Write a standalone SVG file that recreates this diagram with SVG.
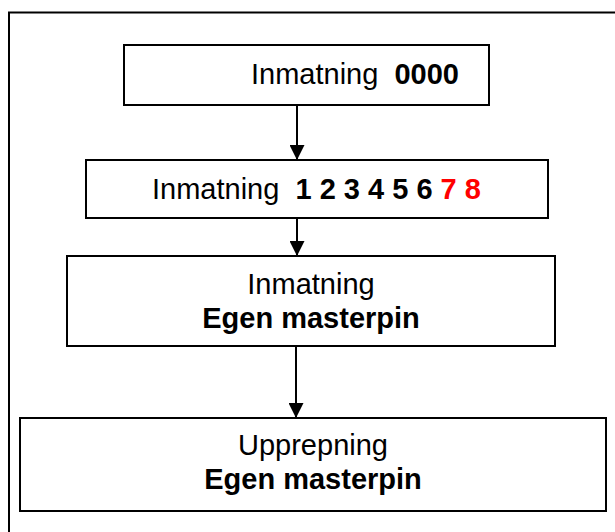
<svg xmlns="http://www.w3.org/2000/svg" width="615" height="532" viewBox="0 0 615 532">
  <style>
    .frame { fill: none; stroke: #000; stroke-width: 2; }
    .box { fill: #fff; stroke: #000; stroke-width: 2; }
    .edge { stroke: #000; stroke-width: 2; fill: none; }
    text { font-family: "Liberation Sans", Arial, sans-serif; font-size: 29px; fill: #000; white-space: pre; }
    .b { font-weight: bold; }
    .red { fill: #ff0000; }
    .c { text-anchor: middle; }
  </style>
  <defs>
    <marker id="arrow" viewBox="0 0 15 15" refX="15" refY="7.5" markerWidth="15" markerHeight="15" markerUnits="userSpaceOnUse" orient="auto">
      <path d="M0,0 L15,7.5 L0,15 Z" fill="#000"/>
    </marker>
  </defs>

  <rect width="615" height="532" fill="#fff"/>
  <!-- page frame, open past the right and bottom edges -->
  <rect class="frame" x="9" y="12.5" width="620" height="530"/>

  <g id="connectors">
    <line class="edge" x1="297" y1="105" x2="297" y2="160" marker-end="url(#arrow)"/>
    <line class="edge" x1="297" y1="218" x2="297" y2="256" marker-end="url(#arrow)"/>
    <line class="edge" x1="296" y1="346" x2="296" y2="418" marker-end="url(#arrow)"/>
  </g>

  <g id="step-default-pin">
    <rect class="box" x="124" y="45" width="365" height="60"/>
    <text x="251" y="84">Inmatning  <tspan class="b">0000</tspan></text>
  </g>

  <g id="step-digits">
    <rect class="box" x="86" y="160" width="462" height="58"/>
    <text x="152" y="199">Inmatning  <tspan class="b">1 2 3 4 5 6 </tspan><tspan class="b red">7 8</tspan></text>
  </g>

  <g id="step-own-pin">
    <rect class="box" x="67" y="256" width="488" height="90"/>
    <text class="c" x="311" y="294">Inmatning</text>
    <text class="c b" x="311" y="328">Egen masterpin</text>
  </g>

  <g id="step-repeat-pin">
    <rect class="box" x="20" y="418" width="586" height="93"/>
    <text class="c" x="313" y="455">Upprepning</text>
    <text class="c b" x="313" y="489">Egen masterpin</text>
  </g>
</svg>
